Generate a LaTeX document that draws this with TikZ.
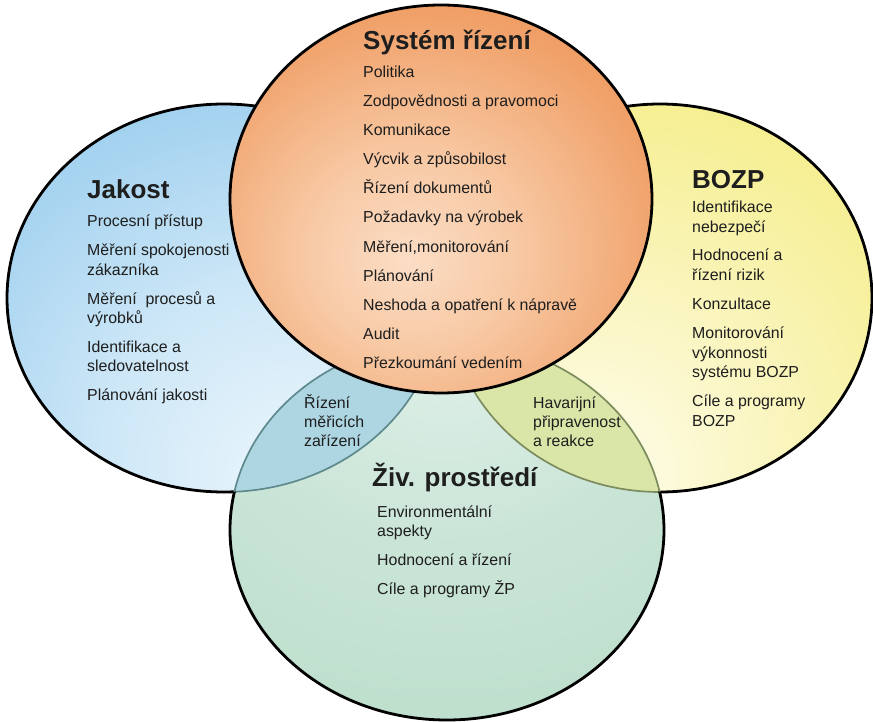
\documentclass[tikz,border=0pt]{standalone}
\usepackage{fontspec}
\setmainfont{Liberation Sans}

% palette
\definecolor{txt}{HTML}{1E1E1E}
\definecolor{jkIn}{HTML}{EEF7FC}
\definecolor{jkMid}{HTML}{CDE7F7}
\definecolor{jkOut}{HTML}{8CC6EB}
\definecolor{bzIn}{HTML}{FEFEF0}
\definecolor{bzMid}{HTML}{FAF5BE}
\definecolor{bzOut}{HTML}{F3EB7A}
\definecolor{srIn}{HTML}{FBDDC5}
\definecolor{srLight}{HTML}{F8CAA6}
\definecolor{srMid}{HTML}{F0A068}
\definecolor{srOut}{HTML}{E7813F}
\definecolor{zpIn}{HTML}{E4F2EC}
\definecolor{zpMid}{HTML}{CAE5D7}
\definecolor{zpOut}{HTML}{BCDECB}
\definecolor{lensB}{HTML}{AED6E2}
\definecolor{lensY}{HTML}{DAE6A8}
\definecolor{seamB}{HTML}{5E8A8E}
\definecolor{seamY}{HTML}{7D8C5E}

% glows, each offset towards the middle of the diagram
\pgfdeclareradialshading{jakostglow}{\pgfpoint{10bp}{-25bp}}{color(0bp)=(jkIn); color(22bp)=(jkMid); color(52bp)=(jkOut); color(110bp)=(jkOut)}
\pgfdeclareradialshading{bozpglow}{\pgfpoint{-10bp}{-25bp}}{color(0bp)=(bzIn); color(22bp)=(bzMid); color(52bp)=(bzOut); color(110bp)=(bzOut)}
\pgfdeclareradialshading{rizeniglow}{\pgfpoint{-4bp}{-8bp}}{color(0bp)=(srIn); color(12bp)=(srLight); color(30bp)=(srMid); color(48bp)=(srOut); color(110bp)=(srOut)}
\pgfdeclareradialshading{prostrediglow}{\pgfpoint{0bp}{30bp}}{color(0bp)=(zpIn); color(25bp)=(zpMid); color(48bp)=(zpOut); color(110bp)=(zpOut)}

\tikzset{
  rim/.style={draw=black, line width=2.8pt},
  seamblue/.style={draw=seamB, line width=1.7pt},
  seamyellow/.style={draw=seamY, line width=1.7pt},
  heading/.style={anchor=base west, inner sep=0pt, text=txt,
    font=\fontsize{26}{30}\selectfont\bfseries},
  item/.style={anchor=base west, inner sep=0pt, text=txt,
    font=\fontsize{15.9}{19}\selectfont},
}

\begin{document}
\begin{tikzpicture}[x=1pt,y=-1pt]
  \useasboundingbox (0,0) rectangle (873,722);
  \fill[white] (0,0) rectangle (873,722);

  % shapes
  \def\jakost{(224,298) ellipse [x radius=217, y radius=194]}
  \def\bozp{(660,298) ellipse [x radius=212, y radius=194]}
  \def\prostredi{(447,530) ellipse [x radius=217, y radius=190]}
  \def\rizeni{(441,199) ellipse [x radius=211, y radius=194]}

  % fills of the side sets and the environment set
  \shade[shading=jakostglow] \jakost;
  \shade[shading=bozpglow] \bozp;
  \shade[shading=prostrediglow] \prostredi;

  % overlaps with the environment set
  \begin{scope}
    \clip \jakost;
    \fill[lensB] \prostredi;
  \end{scope}
  \begin{scope}
    \clip \bozp;
    \fill[lensY] \prostredi;
  \end{scope}

  % outlines: black outside, soft seams where the sets overlap
  \begin{scope}
    \clip (0,0) rectangle (234.4,722) (0,0) rectangle (873,350);
    \draw[rim] \jakost;
  \end{scope}
  \begin{scope}
    \clip (234.4,350) rectangle (873,722);
    \draw[seamblue] \jakost;
  \end{scope}
  \begin{scope}
    \clip (659.6,0) rectangle (873,722) (0,0) rectangle (873,350);
    \draw[rim] \bozp;
  \end{scope}
  \begin{scope}
    \clip (0,350) rectangle (659.6,722);
    \draw[seamyellow] \bozp;
  \end{scope}
  \begin{scope}
    \clip (0,491.9) rectangle (873,722);
    \draw[rim] \prostredi;
  \end{scope}
  \begin{scope}
    \clip (0,0) rectangle (447,491.9);
    \draw[seamblue] \prostredi;
  \end{scope}
  \begin{scope}
    \clip (447,0) rectangle (873,491.9);
    \draw[seamyellow] \prostredi;
  \end{scope}

  % management system on top
  \shade[shading=rizeniglow] \rizeni;
  \draw[rim] \rizeni;

  % Systém řízení
  \node[heading] (srT) at (363,50) {Systém řízení};
  \foreach \yy/\tx [count=\i] in {
      78/Politika,
      107/Zodpovědnosti a pravomoci,
      136/Komunikace,
      165/Výcvik a způsobilost,
      194/Řízení dokumentů,
      223/Požadavky na výrobek,
      252/{Měření,monitorování},
      281/Plánování,
      310/Neshoda a opatření k nápravě,
      339/Audit,
      368/Přezkoumání vedením}
    \node[item] (sr\i) at (363,\yy) {\tx};

  % Jakost
  \node[heading] (jkT) at (87,199) {Jakost};
  \foreach \yy/\tx [count=\i] in {
      227/Procesní přístup,
      256/Měření spokojenosti,
      275.5/zákazníka,
      304/Měření~~procesů a,
      323.5/výrobků,
      352/Identifikace a,
      371.5/sledovatelnost,
      400/Plánování jakosti}
    \node[item] (jk\i) at (87,\yy) {\tx};

  % BOZP
  \node[heading] (bzT) at (692,189) {BOZP};
  \foreach \yy/\tx [count=\i] in {
      213/Identifikace,
      232.5/nebezpečí,
      261/Hodnocení a,
      280.5/řízení rizik,
      309.5/Konzultace,
      338.5/Monitorování,
      358/výkonnosti,
      377.5/systému BOZP,
      406.5/Cíle a programy,
      426/BOZP}
    \node[item] (bz\i) at (692,\yy) {\tx};

  % Živ. prostředí
  \node[heading] (zpT) at (372,486) {Živ. prostředí};
  \foreach \yy/\tx [count=\i] in {
      517/Environmentální,
      536.5/aspekty,
      565/Hodnocení a řízení,
      594/Cíle a programy ŽP}
    \node[item] (zp\i) at (377,\yy) {\tx};

  % shared areas
  \foreach \yy/\tx [count=\i] in {408/Řízení, 427/měřicích, 446/zařízení}
    \node[item] (mz\i) at (304,\yy) {\tx};
  \foreach \yy/\tx [count=\i] in {408/Havarijní, 427/připravenost, 446/a reakce}
    \node[item] (hp\i) at (533,\yy) {\tx};
\end{tikzpicture}
\end{document}
